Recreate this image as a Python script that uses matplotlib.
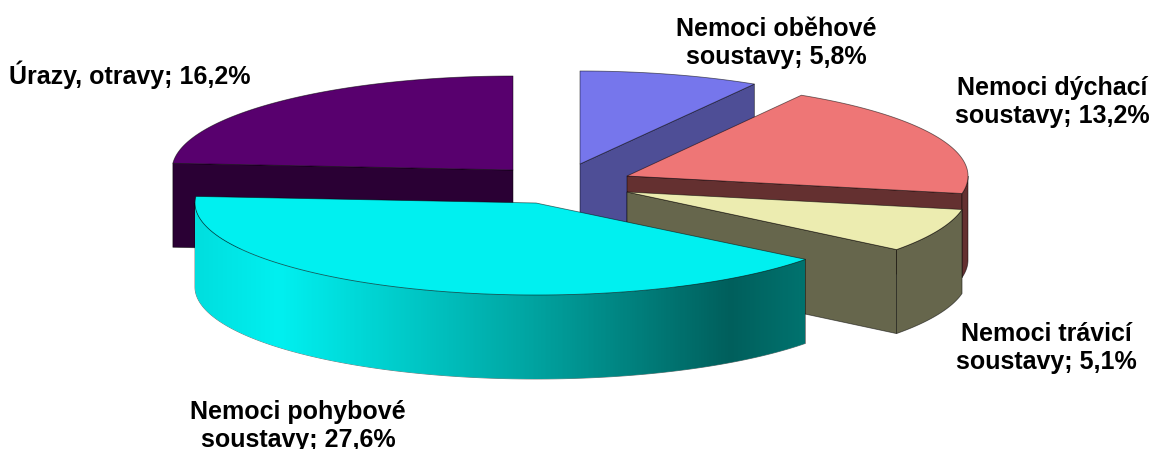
import matplotlib
matplotlib.use("Agg")
import matplotlib.pyplot as plt
import numpy as np
from matplotlib.colors import LinearSegmentedColormap
from matplotlib.patches import Polygon

# clockwise from 12 o'clock
values = [5.8, 13.2, 5.1, 27.6, 16.2]
labels = ["Nemoci oběhové\nsoustavy; 5,8%",
          "Nemoci dýchací\nsoustavy; 13,2%",
          "Nemoci trávicí\nsoustavy; 5,1%",
          "Nemoci pohybové\nsoustavy; 27,6%",
          "Úrazy, otravy; 16,2%"]

top_colors = ["#7676ec", "#ee7676", "#ececb0", "#00f0f0", "#58006e"]
side_colors = ["#4e4e96", "#643030", "#66664c", "#00a0a0", "#2a0034"]

# pie geometry in pixels
rx = 341
ry = [93, 94, 94, 92, 94]
depth = 84
apex_x = [580, 627, 627, 536, 513]
apex_y = [164, 176, 192, 203, 170]
label_x = [776, 1052, 1046, 298, 130]
label_y = [43, 102, 348, 426, 75]
draw_order = [4, 0, 1, 2, 3]

edge = dict(edgecolor=(0, 0, 0, 0.55), linewidth=0.6)

fig = plt.figure(figsize=(11.54, 4.49), dpi=100)
ax = fig.add_axes([0, 0, 1, 1])
ax.set_xlim(0, 1154)
ax.set_ylim(449, 0)
ax.axis("off")

cum = np.cumsum([0] + values) / sum(values) * 360


def rim(i, t):
    t = np.radians(t)
    return np.column_stack([apex_x[i] + rx * np.sin(t), apex_y[i] - ry[i] * np.cos(t)])


def drop(pts):
    return pts + np.array([0, depth])


def side_gradient(poly):
    # horizontal shading on the big slice
    xs = [0, 0.14, 0.55, 0.88, 1]
    cols = ["#00dede", "#00f0f0", "#00a5a2", "#005f5c", "#00726e"]
    cmap = LinearSegmentedColormap.from_list("side", list(zip(xs, cols)))
    im = ax.imshow(np.linspace(0, 1, 400).reshape(1, -1), cmap=cmap, aspect="auto",
                   extent=(193, 805, 400, 190), zorder=poly.get_zorder())
    im.set_clip_path(poly)


z = 1
for i in draw_order:
    start, end = cum[i], cum[i + 1]
    apex = np.array([[apex_x[i], apex_y[i]]], dtype=float)

    # cut faces turned towards the viewer
    if np.sin(np.radians(end)) > 0.01:
        a = rim(i, [end])
        ax.add_patch(Polygon(np.vstack([apex, a, drop(a), drop(apex)]), facecolor=side_colors[i], zorder=z, **edge))
    if np.sin(np.radians(start)) < -0.01:
        a = rim(i, [start])
        ax.add_patch(Polygon(np.vstack([apex, a, drop(a), drop(apex)]), facecolor=side_colors[i], zorder=z, **edge))

    # outer wall, only the front half of the ellipse shows
    lo, hi = max(start, 90), min(end, 270)
    if hi > lo:
        arc = rim(i, np.linspace(lo, hi, 120))
        wall = Polygon(np.vstack([arc, drop(arc)[::-1]]), facecolor=side_colors[i], zorder=z + 1, **edge)
        ax.add_patch(wall)
        if i == 3:
            wall.set_facecolor("none")
            side_gradient(wall)

    # top face
    t = np.linspace(start, end, 120)
    ax.add_patch(Polygon(np.vstack([apex, rim(i, t)]), facecolor=top_colors[i], zorder=z + 2, **edge))
    z += 3

for i in range(len(values)):
    ax.text(label_x[i], label_y[i], labels[i], ha="center", va="center", family="Liberation Sans",
            fontweight="bold", fontsize=18, linespacing=1.17, color="black", zorder=50)

fig.savefig("out.png", dpi=100)
